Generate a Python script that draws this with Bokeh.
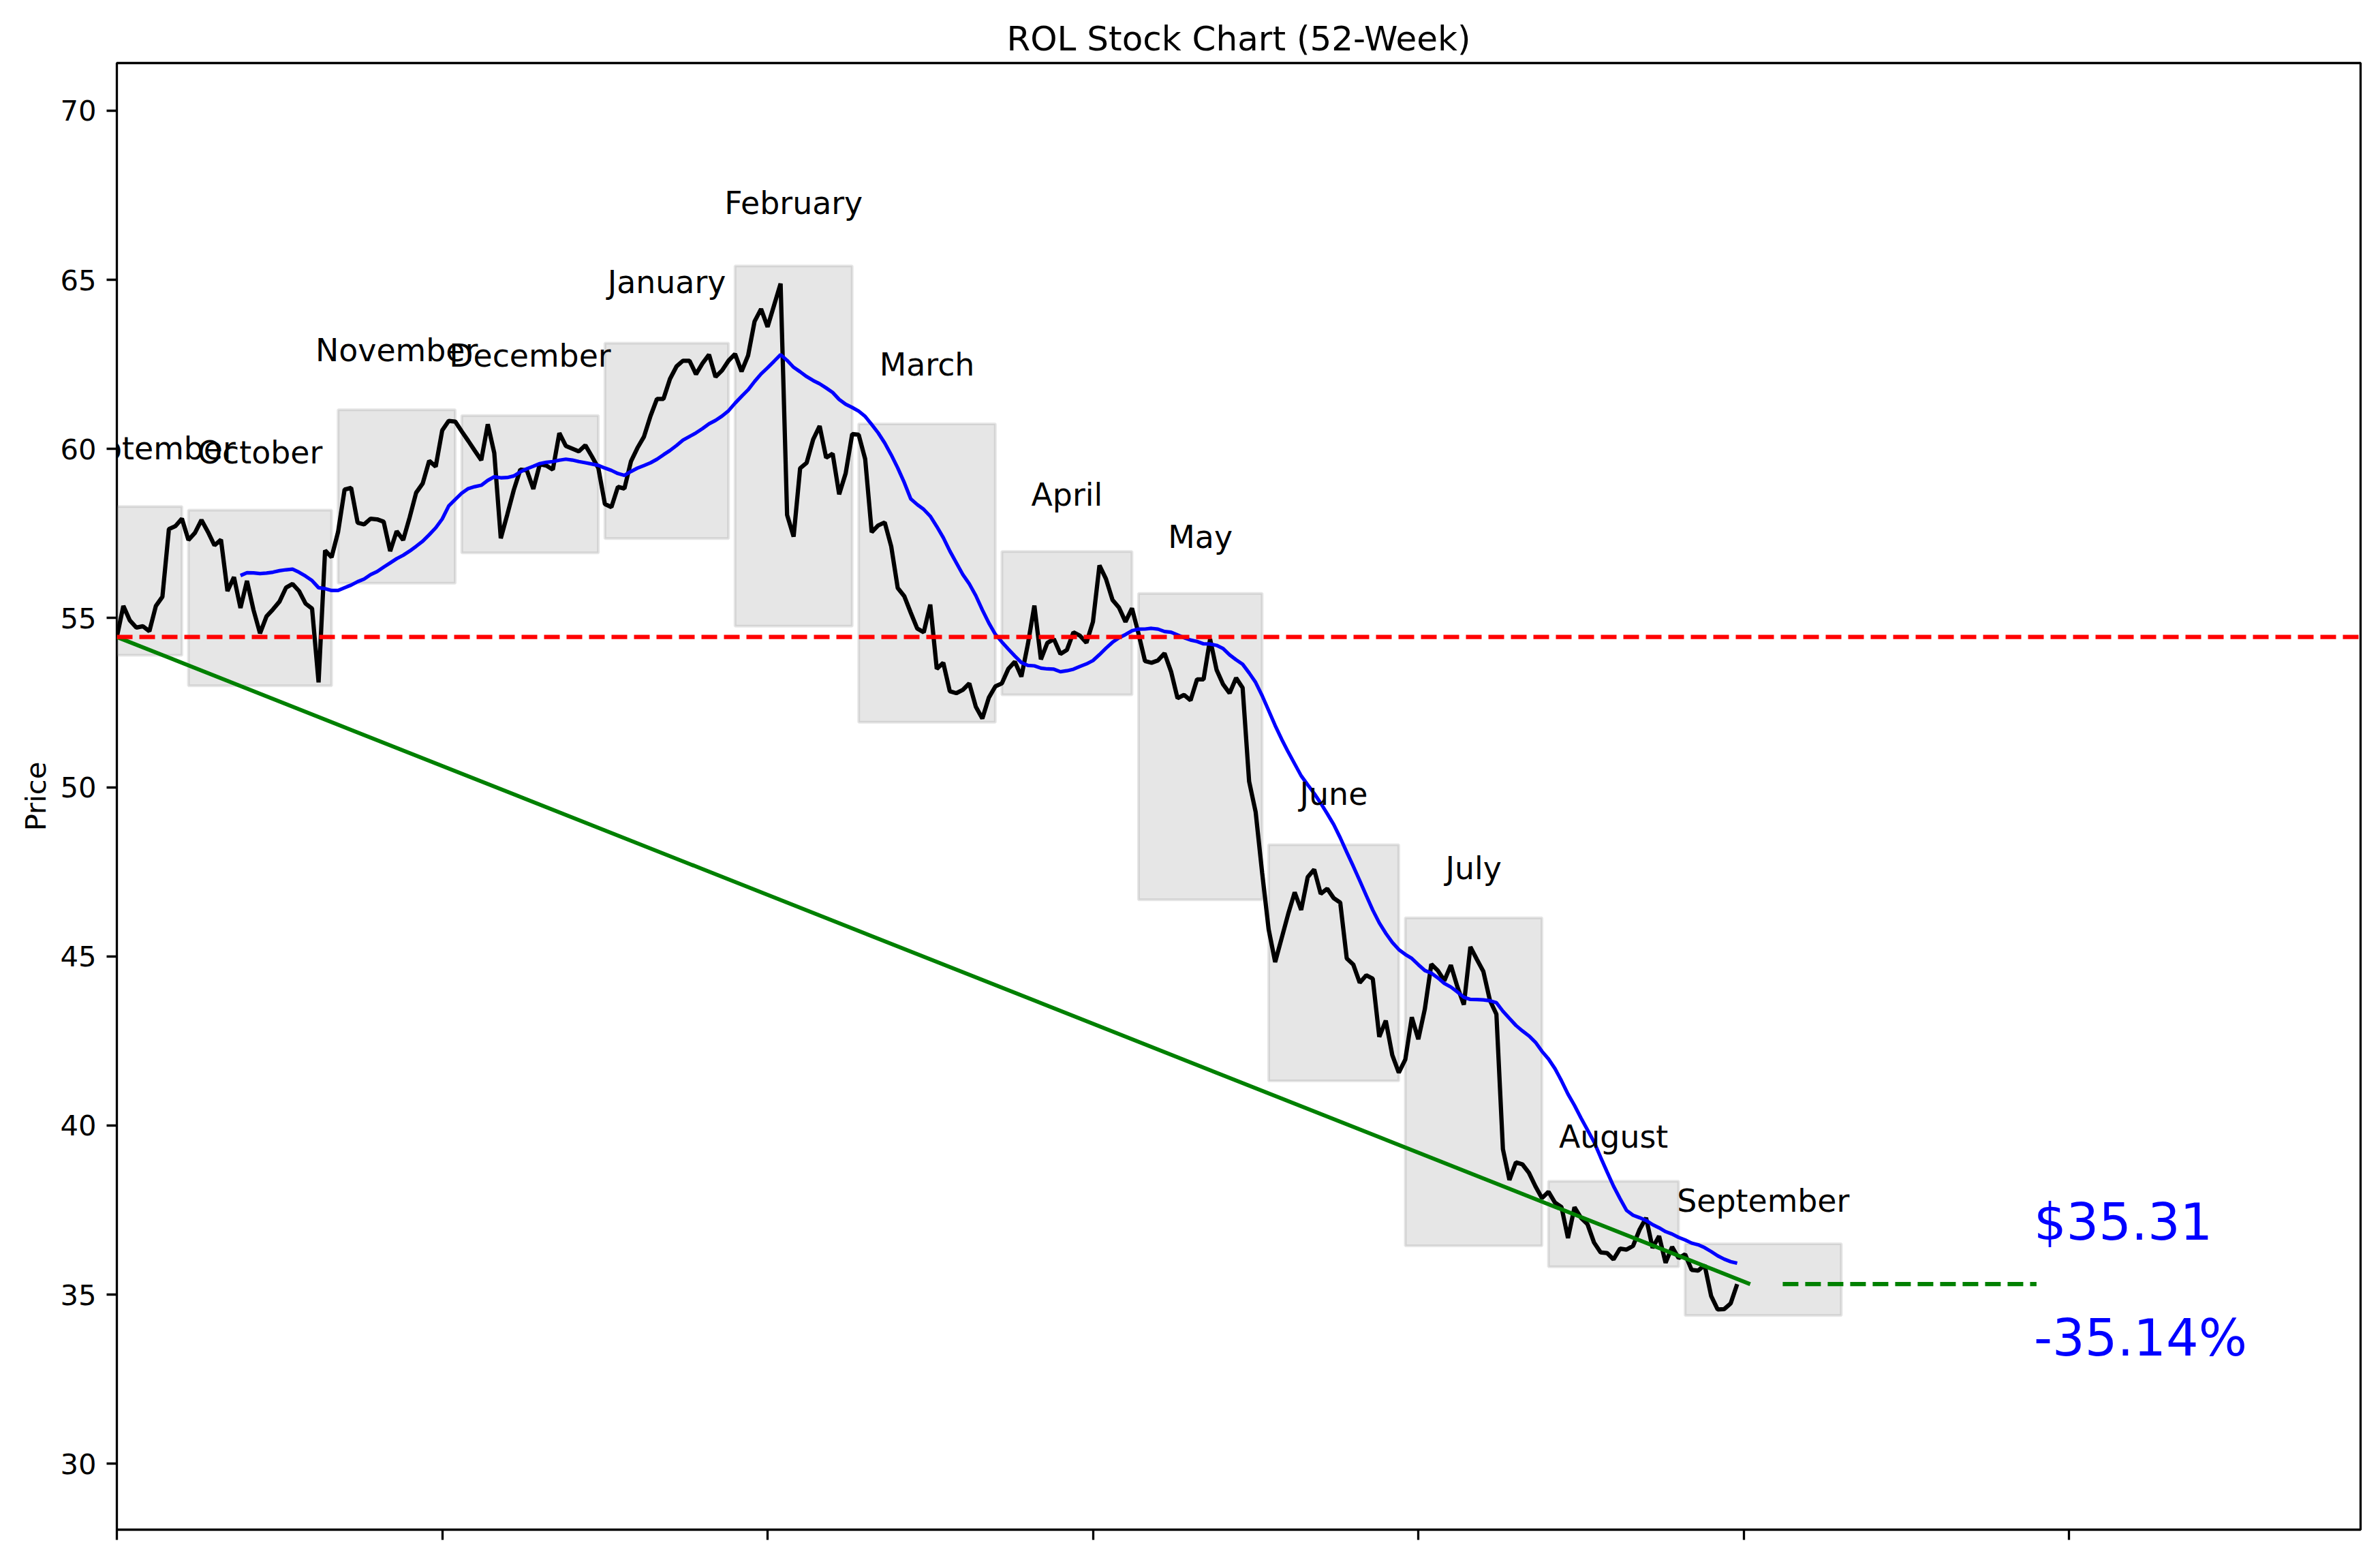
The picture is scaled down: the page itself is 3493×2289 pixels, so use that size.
import pandas as pd
from bokeh.plotting import figure
from bokeh.models import Range1d, Span, FixedTicker, Label
from bokeh.core.properties import value
from bokeh.embed import file_html
from bokeh.resources import INLINE

FONT = "DejaVu Sans"

# daily closing prices, one per trading day
close = [
    54.44, 55.36, 54.93, 54.72, 54.76, 54.61, 55.36, 55.63, 57.63, 57.72,
    57.94, 57.31, 57.52, 57.90, 57.55, 57.15, 57.32, 55.80, 56.21, 55.30,
    56.10, 55.24, 54.55, 55.05, 55.26, 55.49, 55.90, 56.01, 55.80, 55.43,
    55.28, 53.10, 57.00, 56.80, 57.55, 58.80, 58.85, 57.82, 57.77, 57.94,
    57.92, 57.85, 56.98, 57.57, 57.31, 57.98, 58.71, 58.98, 59.65, 59.48,
    60.55, 60.83, 60.81, 60.52, 60.24, 59.95, 59.67, 60.73, 59.88, 57.36,
    58.06, 58.79, 59.39, 59.37, 58.82, 59.55, 59.51, 59.39, 60.47, 60.09,
    60.01, 59.93, 60.11, 59.78, 59.43, 58.37, 58.28, 58.88, 58.83, 59.63,
    60.03, 60.36, 60.97, 61.48, 61.48, 62.07, 62.44, 62.61, 62.61, 62.21,
    62.53, 62.79, 62.13, 62.32, 62.61, 62.81, 62.29, 62.76, 63.77, 64.14,
    63.61, 64.25, 64.89, 58.05, 57.41, 59.43, 59.59, 60.28, 60.68, 59.74,
    59.86, 58.66, 59.28, 60.44, 60.42, 59.70, 57.54, 57.74, 57.83, 57.12,
    55.89, 55.65, 55.16, 54.69, 54.58, 55.40, 53.50, 53.68, 52.84, 52.78,
    52.88, 53.07, 52.38, 52.03, 52.65, 52.98, 53.07, 53.50, 53.71, 53.27,
    54.23, 55.37, 53.78, 54.27, 54.38, 53.94, 54.06, 54.58, 54.48, 54.27,
    54.89, 56.56, 56.16, 55.54, 55.31, 54.89, 55.29, 54.54, 53.73, 53.68,
    53.75, 53.96, 53.42, 52.63, 52.73, 52.57, 53.19, 53.19, 54.38, 53.47,
    53.04, 52.78, 53.23, 52.94, 50.17, 49.27, 47.47, 45.80, 44.83, 45.54,
    46.25, 46.89, 46.37, 47.34, 47.57, 46.85, 47.00, 46.72, 46.59, 44.94,
    44.76, 44.22, 44.44, 44.34, 42.62, 43.10, 42.08, 41.56, 41.95, 43.20,
    42.55, 43.44, 44.77, 44.58, 44.28, 44.74, 44.10, 43.57, 45.28, 44.91,
    44.55, 43.70, 43.29, 39.30, 38.39, 38.91, 38.85, 38.60, 38.20, 37.85,
    38.04, 37.72, 37.59, 36.67, 37.58, 37.27, 37.08, 36.54, 36.25, 36.23,
    36.04, 36.36, 36.33, 36.44, 36.92, 37.27, 36.38, 36.73, 35.94, 36.41,
    36.08, 36.19, 35.73, 35.71, 35.87, 34.96, 34.56, 34.57, 34.74, 35.31,
]

# monthly boxes: first / last trading-day index, monthly high / low
month_names = ["September", "October", "November", "December", "January",
               "February", "March", "April", "May", "June", "July",
               "August", "September"]
month_start = [0, 11, 34, 53, 75, 95, 114, 136, 157, 177, 198, 220, 241]
month_end = [10, 33, 52, 74, 94, 113, 135, 156, 176, 197, 219, 240, 265]
month_high = [58.30, 58.19, 61.16, 60.99, 63.13, 65.41, 60.74, 56.97,
              55.73, 48.30, 46.14, 38.35, 36.50]
month_low = [53.90, 53.00, 56.03, 56.93, 57.35, 54.76, 51.92, 52.73,
             46.67, 41.32, 36.44, 35.82, 34.38]

y_ticks = [30, 35, 40, 45, 50, 55, 60, 65, 70]
x_ticks = [0, 50, 100, 150, 200, 250, 300]

n = len(close)
days = list(range(n))
ma20 = pd.Series(close).rolling(20).mean()
first, last = close[0], close[-1]
change = (last - first) / first * 100

p = figure(width=3477, height=2273, output_backend="svg", toolbar_location=None,
           x_range=Range1d(0, 344.8), y_range=Range1d(28.05, 71.41),
           min_border_left=171, min_border_right=13,
           min_border_top=92, min_border_bottom=29,
           title="ROL Stock Chart (52-Week)")
p.background_fill_color = "white"
p.border_fill_color = "white"
p.outline_line_color = "black"
p.outline_line_width = 3.3
p.xgrid.visible = False
p.ygrid.visible = False

p.title.text_font = FONT
p.title.text_font_size = "50px"
p.title.text_font_style = "normal"
p.title.text_color = "black"
p.title.align = "center"
p.title.standoff = 13

for ax in (p.xaxis, p.yaxis):
    ax.axis_line_color = None
    ax.major_tick_line_color = "black"
    ax.major_tick_line_width = 3.3
    ax.major_tick_out = 15
    ax.major_tick_in = 0
    ax.minor_tick_line_color = None
    ax.major_label_text_font = FONT
    ax.major_label_text_font_size = "41.7px"
    ax.major_label_text_color = "black"
    ax.major_label_standoff = 15

p.yaxis.ticker = FixedTicker(ticks=y_ticks)
p.xaxis.ticker = FixedTicker(ticks=x_ticks)
p.xaxis.major_label_overrides = {t: "" for t in x_ticks}
p.xaxis.major_label_text_font_size = "0px"
p.xaxis.major_label_standoff = 0

p.yaxis.axis_label = "Price"
p.yaxis.axis_label_text_font = FONT
p.yaxis.axis_label_text_font_size = "41.7px"
p.yaxis.axis_label_text_font_style = "normal"
p.yaxis.axis_label_text_color = "black"
p.yaxis.axis_label_standoff = 8

# monthly range boxes
p.quad(left=month_start, right=month_end, bottom=month_low, top=month_high,
       fill_color="gray", fill_alpha=0.2, line_color="gray", line_alpha=0.2,
       line_width=4)

# month names above each box
for name, s, e, h in zip(month_names, month_start, month_end, month_high):
    p.add_layout(Label(x=(s + e) / 2, y=h * 1.02, text=name,
                       text_align="center", text_baseline="bottom",
                       text_color="black", text_font=FONT,
                       text_font_size="45.8px"))

# starting price reference
p.add_layout(Span(location=first, dimension="width", line_color="red",
                  line_dash="23 10", line_width=6.25))

p.line(days, close, line_color="black", line_width=6.25)
p.line(days, ma20, line_color="blue", line_width=5.2)

# trend from first to last close
p.line([0, n + 1], [first, last], line_color="green", line_width=5.8)
p.line([n + 6, n + 45], [last, last], line_color="green", line_dash="23 10",
       line_width=6.25)

p.text(x=[n + 45], y=[last * 1.052], text=[f"${last:.2f}"], x_offset=-4,
       text_align="left", text_baseline="middle", text_color="blue",
       text_font=value(FONT), text_font_size="75px")
p.text(x=[n + 45], y=[last * 0.955], text=[f"{change:.2f}%"], x_offset=-4,
       text_align="left", text_baseline="middle", text_color="blue",
       text_font=value(FONT), text_font_size="75px")

open("out.html", "w").write(file_html(p, INLINE))
